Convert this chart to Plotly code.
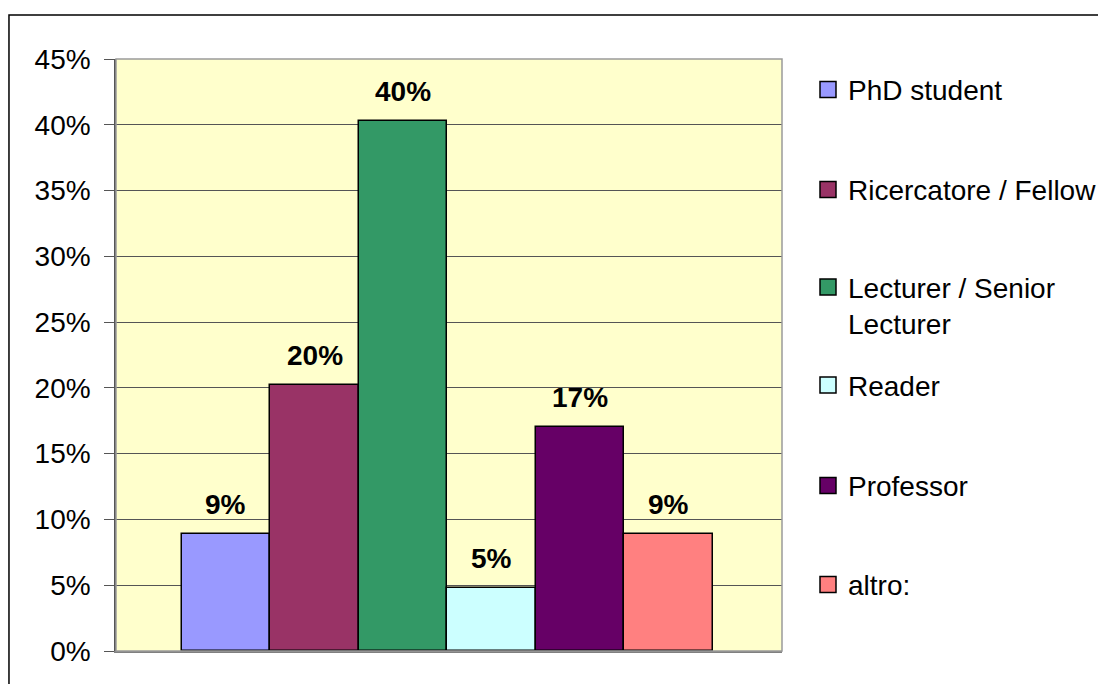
import plotly.graph_objs as go

# Data
roles = ["PhD student", "Ricercatore / Fellow", "Lecturer / Senior<br>Lecturer",
         "Reader", "Professor", "altro:"]
shares = [0.089, 0.202, 0.403, 0.048, 0.170, 0.089]
colors = ["#9999FF", "#993366", "#339966", "#CCFFFF", "#660066", "#FF8080"]
y_ticks = [0, 0.05, 0.10, 0.15, 0.20, 0.25, 0.30, 0.35, 0.40, 0.45]

FONT = "Arial, Liberation Sans, sans-serif"

fig = go.Figure()

# One bar per category, each its own trace (Excel style series)
for role, share, color in zip(roles, shares, colors):
    fig.add_trace(
        go.Bar(
            x=[role],
            y=[share],
            name=role,
            marker=dict(color=color, line=dict(color="#000000", width=1.5)),
            width=1,
            showlegend=False,
            hovertemplate="%{y:.0%}<extra></extra>",
        )
    )

# Legend entries, one legend box per entry so spacing matches the original.
# xref=container keeps the legends from pushing the right margin.
legend_y = [0.948, 0.779, 0.584, 0.449, 0.279, 0.112]
for i, (role, color) in enumerate(zip(roles, colors)):
    key = "legend" if i == 0 else f"legend{i + 1}"
    fig.add_trace(
        go.Scatter(
            x=[None],
            y=[None],
            mode="markers",
            name=role,
            marker=dict(symbol="square", size=16, color=color,
                        line=dict(color="#000000", width=1.5)),
            legend=key,
        )
    )
    fig.update_layout({
        key: dict(
            xref="container",
            x=0.7286,
            y=legend_y[i],
            xanchor="left",
            yanchor="middle",
            valign="top",
            bgcolor="rgba(0,0,0,0)",
            font=dict(family=FONT, size=28, color="#000000"),
        )
    })

# Value labels above bars
for role, share in zip(roles, shares):
    fig.add_annotation(
        x=role,
        y=share,
        text=f"<b>{share:.0%}</b>",
        showarrow=False,
        yanchor="bottom",
        yshift=12,
        font=dict(family=FONT, size=28, color="#000000"),
    )

# Outer chart frame and plot area border
fig.add_shape(type="rect", xref="paper", yref="paper",
              x0=-0.1607, x1=2.0, y0=-1.0, y1=1.0743,
              line=dict(color="#000000", width=1.5), fillcolor="rgba(0,0,0,0)")
fig.add_shape(type="rect", xref="paper", yref="paper",
              x0=0, x1=1, y0=0, y1=1,
              line=dict(color="#9A9A9A", width=1.5), fillcolor="rgba(0,0,0,0)")

fig.update_xaxes(
    type="category",
    range=[-1.242, 6.279],
    showticklabels=False,
    showgrid=False,
    ticks="",
    showline=True,
    linecolor="#808080",
    linewidth=1.5,
    zeroline=False,
)

fig.update_yaxes(
    range=[0, 0.45],
    tickvals=y_ticks,
    tickformat=".0%",
    ticks="outside",
    ticklen=10,
    tickcolor="#555555",
    tickwidth=1,
    ticklabelstandoff=8,
    showline=True,
    linecolor="#555555",
    linewidth=1.5,
    showgrid=True,
    gridcolor="#555555",
    gridwidth=1,
    zeroline=False,
    tickfont=dict(family=FONT, size=28, color="#000000"),
)

# page body adds an 8px margin, so the figure is shifted back by that much
fig.update_layout(
    width=1098,
    height=676,
    barmode="overlay",
    bargap=0,
    plot_bgcolor="#FFFFCC",
    paper_bgcolor="#FFFFFF",
    font=dict(family=FONT, color="#000000"),
    margin=dict(l=108, r=324, t=51, b=33),
    showlegend=True,
)

fig.write_html("out.html")
